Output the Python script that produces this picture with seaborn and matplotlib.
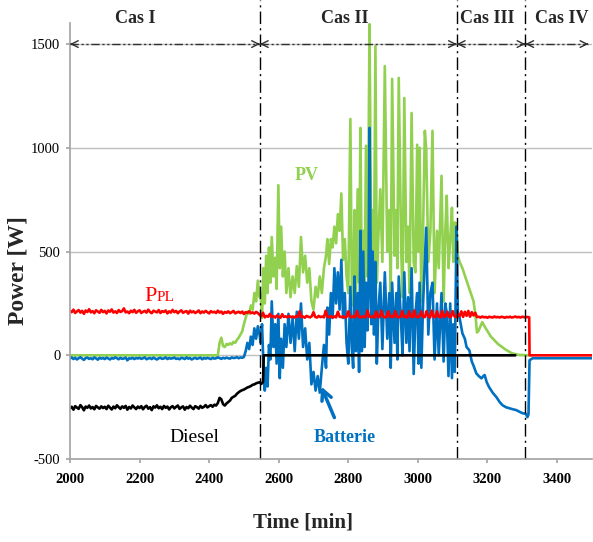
import numpy as np
import pandas as pd
import matplotlib
matplotlib.use("Agg")
import matplotlib.pyplot as plt
import seaborn as sns

# colours (Excel-like)
GREEN = "#92D050"
BLUE = "#0070C0"
RED = "#FF0000"

# ---------------- data ----------------
# Cas I, sampled every 5 min
noise_t = list(np.arange(2000, 2541, 5))

ppl_cas1 = [
    215, 208, 220, 204, 212, 218, 206, 214, 200, 216, 209, 222, 207, 213, 203, 217, 211, 205, 219, 208,
    214, 202, 216, 210, 221, 206, 212, 204, 218, 209, 213, 226, 207, 211, 203, 215, 208, 219, 205, 212,
    217, 204, 210, 214, 206, 220, 209, 203, 215, 211, 207, 218, 204, 213, 209, 216, 202, 212, 206, 219,
    208, 214, 203, 211, 217, 205, 210, 213, 201, 215, 207, 212, 204, 209, 216, 203, 211, 206, 214, 208,
    202, 213, 207, 210, 204, 215, 206, 211, 200, 209, 205, 212, 203, 208, 214, 202, 207, 210, 204, 211,
    199, 208, 205, 212, 203, 207, 201, 209, 204,
]

diesel_cas1 = [
    -255, -248, -262, -245, -252, -258, -240, -250, -265, -247, -253, -242, -256, -249, -260, -244, -251, -257, -246, -254,
    -248, -259, -243, -252, -261, -247, -255, -241, -250, -258, -246, -253, -244, -262, -249, -256, -242, -251, -259, -247,
    -254, -245, -260, -249, -243, -257, -250, -264, -246, -252, -241, -255, -248, -259, -244, -253, -247, -261, -250, -245,
    -256, -248, -242, -258, -251, -246, -262, -249, -255, -243, -252, -259, -245, -250, -257, -244, -253, -248, -240, -251,
    -245, -240, -248, -238, -242, -230, -205, -212, -235, -242, -232, -225, -218, -205, -200, -195, -185, -178, -172, -168,
    -165, -160, -155, -152, -148, -142, -140, -135, -132,
]

batt_cas1 = [
    -15, -10, -18, -12, -20, -14, -9, -16, -22, -13, -11, -17, -14, -19, -10, -15, -21, -12, -16, -13,
    -18, -11, -15, -20, -13, -16, -10, -14, -19, -12, -17, -15, -11, -24, -14, -16, -12, -18, -13, -15,
    -12, -17, -14, -10, -19, -15, -13, -18, -11, -16, -20, -14, -12, -17, -15, -10, -18, -13, -16, -14,
    -11, -17, -15, -19, -12, -14, -18, -10, -16, -13, -20, -15, -12, -17, -14, -11, -19, -13, -16, -12,
    -15, -18, -12, -16, -14, -10, -13, -17, -12, -15, -11, -14, -16, -10, -13, -12, -9, -14, -10, -12,
    -8, 20, 60, 30, 90, 50, 130, 80, 140,
]

pv_cas1_t = [2000, 2425, 2430, 2435, 2440, 2445, 2450, 2455, 2460, 2465, 2470, 2475, 2480,
             2485, 2490, 2495, 2500, 2505, 2510, 2515, 2520, 2525, 2530, 2535, 2540]
pv_cas1 = [0, 0, 60, 85, 45, 40, 55, 50, 58, 52, 65, 60, 75,
           85, 100, 115, 150, 180, 210, 200, 240, 220, 300, 260, 360]

# Cas II (PV and battery share the same time stamps)
mid_t = [
    2545, 2548, 2552, 2556, 2560, 2564, 2568, 2572, 2576, 2580,
    2585, 2590, 2594, 2599, 2603, 2607, 2612, 2617, 2622, 2628,
    2634, 2640, 2646, 2652, 2658, 2664, 2670, 2676, 2682, 2688,
    2694, 2700, 2706, 2712, 2718, 2724, 2730, 2736, 2740, 2745,
    2750, 2755, 2760, 2765, 2770, 2775, 2780, 2785, 2790, 2795,
    2800, 2806, 2810, 2814, 2818, 2822, 2827, 2831, 2835, 2839,
    2843, 2847, 2851, 2855, 2858, 2861, 2866, 2870, 2874, 2878,
    2882, 2886, 2892, 2898, 2905, 2912, 2918, 2922, 2926, 2933,
    2938, 2941, 2945, 2952, 2956, 2961, 2967, 2972, 2976, 2982,
    2988, 2993, 2998, 3002, 3005, 3010, 3015, 3020, 3024, 3030,
    3036, 3042, 3048, 3055, 3060, 3068, 3074, 3079, 3083, 3088,
    3093, 3098, 3102, 3106, 3111, 3115,
]
pv_mid = [
    280, 300, 180, 420, 250, 480, 300, 520, 350, 570,
    380, 470, 320, 820, 420, 620, 380, 500, 300, 420,
    280, 380, 300, 430, 330, 570, 400, 480, 350, 420,
    260, 220, 330, 280, 380, 300, 420, 480, 560, 440,
    560, 520, 620, 540, 680, 600, 780, 460, 560, 380,
    300, 1139, 350, 240, 700, 300, 800, 350, 1096, 250,
    600, 350, 1010, 380, 900, 1596, 500, 700, 450, 1490,
    350, 550, 800, 450, 1394, 500, 700, 300, 1332, 480,
    700, 420, 1337, 520, 280, 1240, 450, 620, 300, 1168,
    450, 400, 1015, 500, 1000, 260, 600, 1082, 995, 450,
    600, 1082, 300, 600, 420, 865, 260, 600, 769, 420,
    560, 711, 450, 640, 634, 480,
]
batt_mid = [
    100, 60, 150, -40, -170, -60, -150, 50, -20, 260,
    40, 150, -40, 200, -110, 80, -60, 150, 40, 200,
    60, 180, 20, 210, 80, 250, 40, 130, -20, 60,
    -140, -80, -170, -100, -180, -60, 50, -60, 230, 100,
    300, 180, 420, 250, 400, 220, 460, 180, 300, 60,
    -40, 330, 40, -60, 380, 20, 300, -80, 600, 20,
    500, 40, 350, 120, 300, 1096, 150, 500, 100, 450,
    -40, 200, 350, 30, 400, 80, 300, -60, 350, 60,
    300, -20, 380, 150, 0, 400, 60, 280, 20, 420,
    -90, 200, 300, -40, 350, -60, 250, 450, 615, 100,
    300, 350, -20, 250, 0, 300, -30, 250, 200, -100,
    250, -110, 150, -80, 620, 200,
]

# Cas II + III load, every 5 min
ppl_cas23 = [
    195, 188, 205, 183, 190, 186, 200, 184, 189, 182, 192, 186, 181, 198, 185, 188, 183, 190, 184, 187,
    182, 189, 185, 212, 184, 187, 181, 190, 186, 183, 188, 208, 185, 182, 190, 184, 187, 183, 215, 186,
    184, 189, 182, 187, 183, 210, 186, 184, 188, 182, 185, 212, 187, 183, 189, 184, 214, 186, 182, 188,
    185, 183, 216, 187, 184, 189, 182, 211, 186, 184, 215, 188, 183, 186, 212, 185, 189, 184, 213, 187,
    183, 186, 214, 185, 188, 182, 212, 187, 184, 216, 186, 183, 189, 211, 185, 184, 213, 188, 182, 215,
    186, 184, 212, 187, 183, 214, 185, 189, 210, 184, 186, 213, 188, 185,
    200, 188, 212, 185, 210, 190, 214, 186, 208, 192, 205,
    184, 186, 182, 187, 183, 185, 181, 186, 184, 182, 187, 183, 185, 182, 186,
    184, 181, 185, 183, 186, 182, 184, 187, 183, 185, 182, 186, 184, 183, 185,
]
ppl_cas23_t = list(np.arange(2545, 3316, 5))
ppl_tail_t = [3320, 3321, 3500]
ppl_tail = [183, 0, 0]

diesel_tail_t = [2545, 2550, 2555, 2557, 3280]
diesel_tail = [-130, -138, -128, 0, 0]

# Cas III / IV
pv_cas3_t = [3120, 3128, 3140, 3150, 3160, 3165, 3170, 3175, 3185, 3195, 3210, 3230, 3250, 3270, 3290, 3320]
pv_cas3 = [450, 420, 360, 310, 260, 200, 110, 120, 160, 130, 90, 55, 30, 10, 2, 0]

batt_cas34_t = [3120, 3128, 3135, 3140, 3148, 3155, 3160, 3168, 3175, 3183, 3188, 3192, 3198, 3205, 3215,
                3226, 3235, 3243, 3253, 3263, 3273, 3283, 3292, 3301, 3310, 3315, 3318, 3321, 3330, 3500]
batt_cas34 = [180, 106, 80, 40, 24, -30, -50, -87, -100, -111, -100, -95, -130, -154, -180,
              -202, -225, -240, -250, -255, -260, -264, -272, -279, -282, -298, -285, -24, -14, -14]

case_edges = [2000, 2546, 3112, 3309, 3490]
case_names = ["Cas I", "Cas II", "Cas III", "Cas IV"]
case_label_t = [2187, 2789, 3200, 3413]

# ---------------- frames ----------------
pv = pd.DataFrame({"t": pv_cas1_t + mid_t + pv_cas3_t, "w": pv_cas1 + pv_mid + pv_cas3})
batt = pd.DataFrame({"t": noise_t + mid_t + batt_cas34_t, "w": batt_cas1 + batt_mid + batt_cas34})
diesel = pd.DataFrame({"t": noise_t + diesel_tail_t, "w": diesel_cas1 + diesel_tail})
ppl = pd.DataFrame({"t": noise_t + ppl_cas23_t + ppl_tail_t, "w": ppl_cas1 + ppl_cas23 + ppl_tail})

# ---------------- plot ----------------
sns.set_theme(style="white")
plt.rcParams["font.family"] = ["Liberation Serif", "DejaVu Serif"]
plt.rcParams["axes.unicode_minus"] = False

fig = plt.figure(figsize=(5.93, 5.42), dpi=100)
ax = fig.add_axes([0.118, 0.153, 0.880, 0.804])

for df, col in [(pv, GREEN), (batt, BLUE), (diesel, "black"), (ppl, RED)]:
    sns.lineplot(data=df, x="t", y="w", ax=ax, color=col, lw=1.9,
                 estimator=None, sort=False, legend=False)

ax.set_xlim(2000, 3500)
ax.set_ylim(-500, 1600)
ax.set_xticks(np.arange(2000, 3401, 200))
ax.set_yticks(np.arange(-500, 1501, 500))
ax.grid(axis="y", color="#BFBFBF", lw=1)
ax.set_axisbelow(True)
for side in ["top", "right"]:
    ax.spines[side].set_visible(False)
for side in ["left", "bottom"]:
    ax.spines[side].set_color("#A6A6A6")
ax.tick_params(axis="both", length=3, color="#A6A6A6", labelsize=10.5, colors="black")
ax.tick_params(axis="x", pad=7, bottom=True)
ax.tick_params(axis="y", pad=4, left=True)
for lbl in ax.get_xticklabels():
    lbl.set_fontweight("bold")

ax.set_xlabel("Time [min]", fontsize=15, fontweight="bold")
ax.set_ylabel("Power [W]", fontsize=17, fontweight="bold")
ax.xaxis.set_label_coords(0.446, -0.122)
ax.yaxis.set_label_coords(-0.080, 0.433)

# case boundaries
for xv in case_edges[1:-1]:
    ax.axvline(xv, ymin=0, ymax=1.053, color="black", lw=1, dashes=(9, 3, 1.5, 3), clip_on=False)

# double arrows at the top
for a, b in zip(case_edges[:-1], case_edges[1:]):
    ax.plot([a, b], [1500, 1500], color="#303030", lw=1, dashes=(6, 2, 1.5, 2, 1.5, 2))
    for tip, tail in [(b, b - 4), (a, a + 4)]:
        ax.annotate("", xy=(tip, 1500), xytext=(tail, 1500),
                    arrowprops=dict(arrowstyle="->", lw=1, color="#303030",
                                    shrinkA=0, shrinkB=0, mutation_scale=12))
for name, tx in zip(case_names, case_label_t):
    ax.text(tx, 1622, name, ha="center", va="center", fontsize=13,
            fontweight="bold", clip_on=False)

# series labels
ax.text(2679, 865, "PV", color=GREEN, fontsize=13, fontweight="bold", ha="center", va="center")
ax.text(2250, 262, "P", color=RED, fontsize=16, ha="right", va="baseline")
ax.text(2250, 262, "PL", color=RED, fontsize=11, ha="left", va="baseline")
ax.text(2357, -394, "Diesel", color="black", fontsize=14, ha="center", va="center")
ax.text(2789, -394, "Batterie", color=BLUE, fontsize=13, fontweight="bold", ha="center", va="center")
ax.annotate("", xy=(2722, -150), xytext=(2760, -300),
            arrowprops=dict(arrowstyle="->", color=BLUE, lw=2.5, mutation_scale=18,
                            shrinkA=0, shrinkB=0))

fig.savefig("out.png", dpi=100)
